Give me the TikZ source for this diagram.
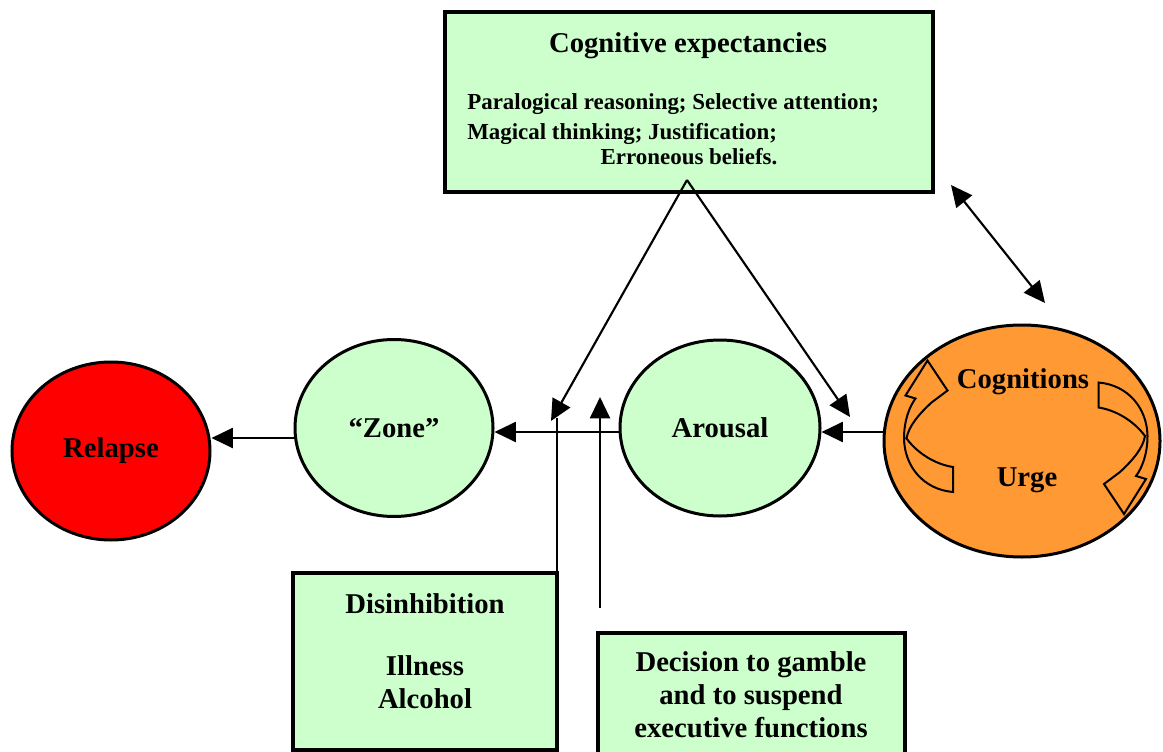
\documentclass[tikz,border=0pt]{standalone}
\usepackage{fontspec}
\setmainfont{Liberation Serif}
\usetikzlibrary{arrows.meta,shapes.geometric,calc}
\definecolor{palegreen}{HTML}{CCFFCC}
\definecolor{relapsered}{HTML}{FF0000}
\definecolor{urgeorange}{HTML}{FF9933}

% outline of one twisted curved block arrow, drawn about its own centre
\newcommand{\loopbandpath}{%
  (24.5,65.5) .. controls (-5,63) and (-24,40) .. (-24.5,12)
  .. controls (-24.5,-6) and (-19,-20) .. (-13,-28)
  -- (-23,-31) -- (-1,-66) -- (19,-36) -- (3,-24)
  .. controls (-10,-12) and (-20,0) .. (-22,12)
  .. controls (-10,28) and (8,38) .. (24.5,40.5) -- cycle}

\begin{document}
\begin{tikzpicture}[x=0.75pt,y=-0.75pt,
  big/.style={font=\fontsize{21.5}{25}\selectfont\bfseries},
  small/.style={font=\fontsize{17.2}{20}\selectfont\bfseries},
  txt/.style={inner sep=0pt,big},
  txtsmall/.style={inner sep=0pt,small},
  state/.style={ellipse,draw,line width=2.25pt,inner sep=0pt,big},
  panel/.style={rectangle,draw,line width=3pt,fill=palegreen,inner sep=0pt,outer sep=0pt},
  arr/.style={line width=1.6pt,-{Triangle[length=16pt,width=15pt]}},
  dblarr/.style={line width=1.6pt,{Triangle[length=16pt,width=15pt]}-{Triangle[length=16pt,width=15pt]}},
  plainline/.style={line width=1.6pt},
  loopband/.style={fill=urgeorange,draw,line width=1.5pt,line join=miter},
]
\useasboundingbox (0,0) rectangle (1163,752);

% --- states along the chain ---
\node[state,fill=relapsered,minimum width=148.5pt,minimum height=133.5pt] (relapse) at (111,451) {Relapse};
\node[state,fill=palegreen,minimum width=148.5pt,minimum height=132.75pt] (zone) at (394,428) {``Zone''};
\node[state,fill=palegreen,minimum width=150pt,minimum height=132pt] (arousal) at (720,428) {Arousal};
\node[state,fill=urgeorange,minimum width=207pt,minimum height=174pt] (urge) at (1022,441) {};

% --- cycling arrows inside the orange state ---
\begin{scope}[shift={(928.5,426.5)}]
  \filldraw[loopband] \loopbandpath;
\end{scope}
\begin{scope}[shift={(1123,448)},rotate=180]
  \filldraw[loopband] \loopbandpath;
\end{scope}
\node[txt,anchor=base] (cognitions) at (1023,388) {Cognitions};
\node[txt,anchor=base] (urgetext) at (1027,486) {Urge};

% --- cognitive expectancies panel ---
\node[panel,minimum width=366pt,minimum height=135pt] (cogbox) at (689,102) {};
\node[txt,anchor=base] (cogtitle) at (688,53) {Cognitive expectancies};
\node[txtsmall,anchor=base west] (cogline1) at (467,110) {Paralogical reasoning; Selective attention;};
\node[txtsmall,anchor=base west] (cogline2) at (467,140) {Magical thinking; Justification;};
\node[txtsmall,anchor=base] (cogline3) at (689,165) {Erroneous beliefs.};

% --- lower panels ---
\node[panel,minimum width=198pt,minimum height=132.75pt] (disbox) at (425,661.5) {};
\node[txt,anchor=base] (distitle) at (425,613) {Disinhibition};
\node[txt,anchor=base] (disline1) at (425,675) {Illness};
\node[txt,anchor=base] (disline2) at (425,708) {Alcohol};

\node[panel,minimum width=230.25pt,minimum height=110.25pt] (decbox) at (751.5,706.5) {};
\node[txt,anchor=base] (decline1) at (751,671) {Decision to gamble};
\node[txt,anchor=base] (decline2) at (751,704) {and to suspend};
\node[txt,anchor=base] (decline3) at (751,737) {executive functions};

% --- free ends of connectors ---
\coordinate (apex) at (687,180);
\coordinate (zonehit) at (551,421);
\coordinate (arousalhit) at (850,417);
\coordinate (disend) at (557,418);
\coordinate (decfoot) at (600,608);
\coordinate (dectip) at (600,397);
\coordinate (cogcorner) at (951,185);
\coordinate (urgetop) at (1045,303);

% --- main chain ---
\draw[arr] ($(urge.west)+(0,-9)$) -- ($(arousal.east)+(0,4)$);
\draw[arr] ($(arousal.west)+(0,4)$) -- ($(zone.east)+(0,4)$);
\draw[arr] ($(zone.west)+(0,10)$) -- ($(relapse.east)+(0,-13)$);

% --- influences ---
\draw[plainline] (disbox.north east) -- (disbox.north east |- disend);
\draw[arr] (decfoot) -- (dectip);
\draw[arr] (apex) -- (zonehit);
\draw[arr] (apex) -- (arousalhit);
\draw[dblarr] (cogcorner) -- (urgetop);
\end{tikzpicture}
\end{document}
